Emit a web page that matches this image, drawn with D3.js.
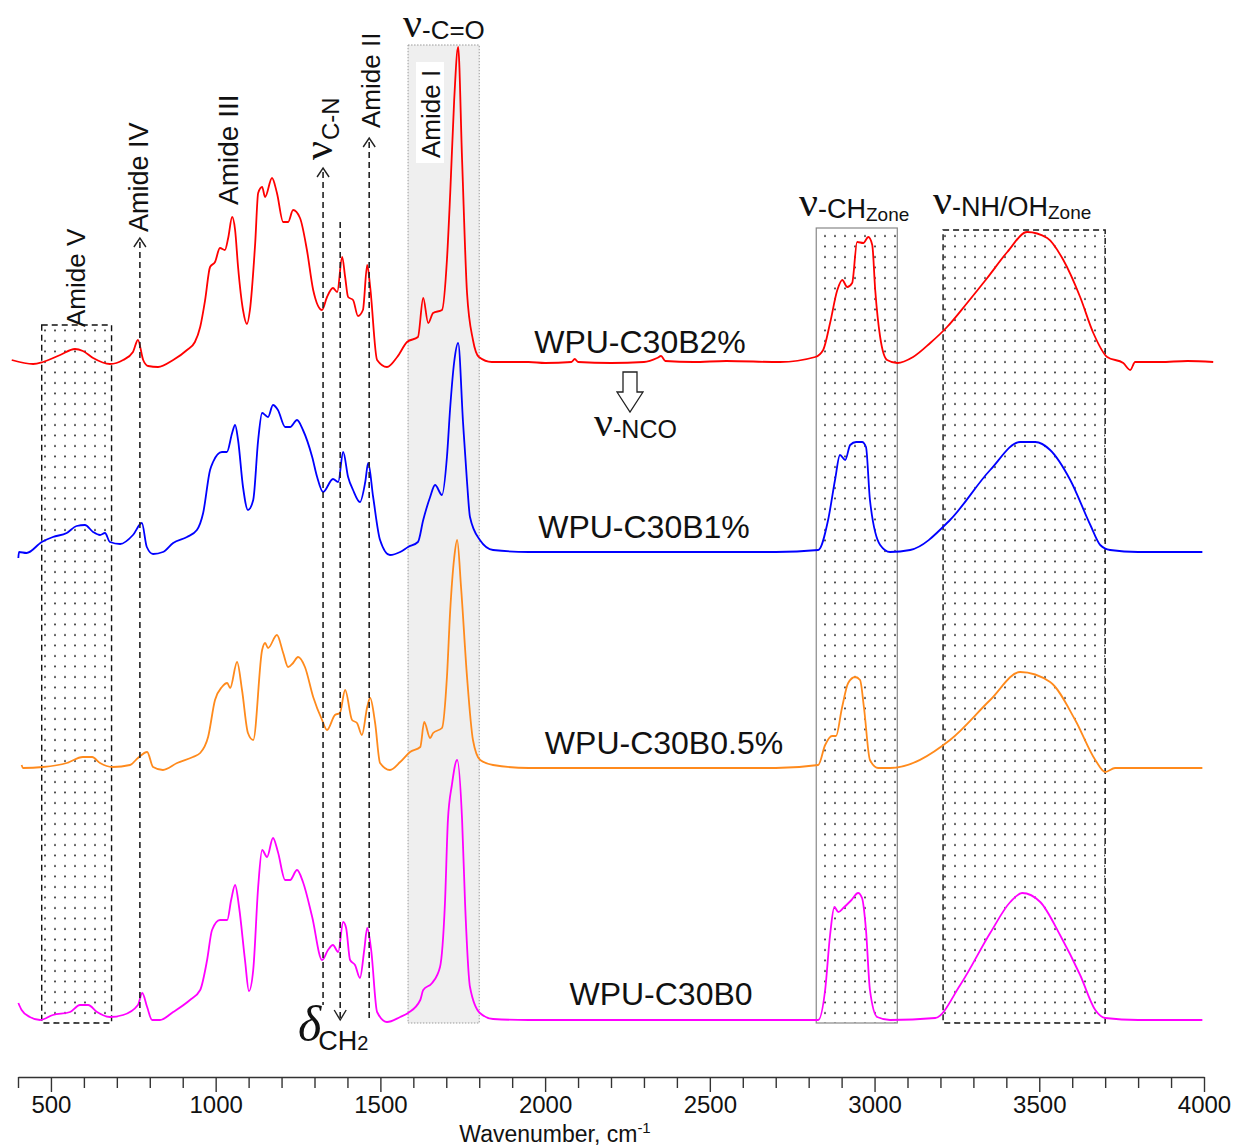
<!DOCTYPE html>
<head>
  <meta charset="utf-8">
  <title>FTIR spectra WPU-C30B</title>
  <style>
    body { margin: 0; background: #fff; }
    text { font-family: "Liberation Sans", Arial, sans-serif; fill: #111; }
    .greek { font-family: "Liberation Serif", "DejaVu Serif", serif; }
  </style>
</head>
<body>
<div id="chart"></div>
<script src="https://cdnjs.cloudflare.com/ajax/libs/d3/7.8.5/d3.min.js"></script>
<script>
// spectra, [wavenumber cm-1, absorbance (a.u., relative to own baseline)]
var specB2 = [[381,0],[446,-4],[476,-2],[528,5],[573,11],[597,9],[628,2],[679,-4],[719,0],[749,8],[764,20],[780,0],[795,-6],[825,-7],[871,0],[913,10],[937,18],[953,33],[968,60],[983,93],[998,98],[1013,112],[1028,110],[1038,122],[1050,143],[1059,130],[1068,93],[1083,50],[1095,36],[1104,50],[1120,117],[1129,167],[1141,173],[1150,163],[1171,182],[1186,167],[1205,138],[1220,138],[1235,150],[1256,142],[1277,110],[1296,70],[1323,50],[1338,63],[1356,72],[1369,68],[1384,103],[1393,83],[1402,63],[1417,60],[1432,44],[1447,50],[1460,95],[1469,73],[1490,0],[1520,-7],[1551,3],[1581,18],[1614,23],[1630,62],[1645,37],[1660,47],[1687,50],[1702,100],[1712,167],[1724,260],[1736,313],[1748,200],[1763,67],[1781,20],[1799,3],[1838,-2],[1950,-2],[2000,-3],[2080,-2],[2090,1],[2100,-2],[2200,-3],[2300,-2],[2340,2],[2352,4],[2365,-1],[2450,-2],[2550,-1],[2713,-2],[2820,3],[2844,10],[2865,37],[2887,70],[2902,80],[2917,73],[2932,77],[2947,118],[2966,117],[2981,123],[2993,115],[3002,70],[3017,23],[3038,0],[3069,-3],[3117,3],[3169,17],[3220,33],[3281,57],[3342,82],[3403,108],[3463,128],[3524,122],[3573,100],[3624,63],[3664,27],[3706,3],[3755,-3],[3776,-10],[3791,-2],[3867,-2],[3950,-1],[4028,-2]];

var specB1 = [[401,-6],[403,0],[426,-1],[472,10],[506,15],[548,19],[578,26],[603,27],[628,20],[649,17],[664,19],[679,10],[710,8],[749,17],[776,29],[791,5],[810,-2],[840,0],[871,9],[913,15],[943,22],[962,39],[983,82],[992,90],[1019,100],[1034,100],[1050,119],[1059,127],[1068,112],[1083,65],[1098,42],[1114,52],[1129,112],[1141,139],[1150,137],[1159,135],[1174,147],[1189,142],[1211,125],[1226,125],[1247,132],[1265,122],[1293,95],[1308,75],[1326,60],[1356,73],[1372,70],[1387,100],[1402,75],[1417,62],[1438,50],[1454,70],[1463,89],[1478,55],[1499,12],[1529,-3],[1560,0],[1584,5],[1614,10],[1630,32],[1651,55],[1666,67],[1687,57],[1702,95],[1712,145],[1724,190],[1736,209],[1751,129],[1763,70],[1772,35],[1802,12],[1842,2],[1950,0],[2200,0],[2500,0],[2700,0],[2829,2],[2859,32],[2880,72],[2895,97],[2911,92],[2926,107],[2944,110],[2962,110],[2974,105],[2986,52],[3017,7],[3047,0],[3108,2],[3229,32],[3351,82],[3442,110],[3488,110],[3533,102],[3594,72],[3655,27],[3685,7],[3715,2],[3800,0],[3995,0]];

var specB05 = [[411,3],[415,0],[476,1],[548,5],[597,11],[625,11],[649,5],[688,1],[740,3],[764,10],[792,16],[810,1],[840,-2],[883,5],[931,11],[953,15],[977,31],[998,68],[1019,81],[1035,85],[1044,80],[1065,106],[1080,78],[1098,35],[1114,28],[1141,118],[1150,125],[1159,120],[1186,133],[1205,115],[1220,101],[1235,105],[1250,111],[1271,101],[1296,71],[1323,48],[1338,38],[1362,53],[1377,55],[1393,78],[1414,48],[1429,45],[1444,33],[1460,61],[1469,70],[1484,45],[1499,5],[1529,-2],[1560,6],[1590,16],[1621,21],[1633,46],[1651,30],[1660,35],[1687,40],[1702,91],[1712,158],[1724,210],[1733,228],[1745,180],[1763,91],[1781,28],[1803,8],[1842,3],[1950,0],[2200,0],[2500,0],[2700,0],[2829,3],[2850,23],[2871,32],[2883,32],[2901,60],[2920,85],[2941,91],[2956,88],[2968,60],[2986,8],[3011,0],[3047,0],[3229,28],[3351,68],[3442,96],[3533,86],[3609,48],[3670,8],[3700,-4],[3730,0],[3800,0],[3995,0]];

var specB0 = [[401,17],[411,10],[436,3],[467,0],[506,5],[558,8],[588,15],[613,15],[640,8],[679,3],[719,5],[764,15],[777,27],[792,13],[807,0],[831,0],[871,8],[922,20],[953,30],[974,60],[989,90],[1013,100],[1035,100],[1047,120],[1059,135],[1071,113],[1089,60],[1101,29],[1114,50],[1129,133],[1141,170],[1156,163],[1174,182],[1189,168],[1211,140],[1226,140],[1247,150],[1265,138],[1293,103],[1323,60],[1341,70],[1356,75],[1372,68],[1387,98],[1396,92],[1408,60],[1423,55],[1438,42],[1451,70],[1460,92],[1472,70],[1490,8],[1520,-2],[1560,3],[1584,7],[1621,20],[1630,30],[1657,37],[1681,53],[1696,117],[1705,200],[1717,235],[1733,260],[1748,200],[1757,117],[1772,33],[1802,7],[1842,1],[1950,0],[2200,0],[2500,0],[2700,0],[2829,0],[2850,30],[2865,85],[2878,113],[2890,108],[2905,112],[2930,120],[2950,127],[2962,122],[2974,90],[2986,30],[3008,3],[3047,0],[3184,2],[3260,35],[3351,87],[3412,118],[3448,127],[3503,118],[3563,85],[3624,45],[3670,10],[3700,2],[3800,0],[3995,0]];

var seriesNames = ["WPU-C30B2%", "WPU-C30B1%", "WPU-C30B0.5%", "WPU-C30B0"];
var seriesData = [specB2, specB1, specB05, specB0];
var seriesOffsets = [660, 468, 252, 0];
var seriesColors = ["#ff0000", "#0000ff", "#ff8a1c", "#ff00ff"];

// annotated wavenumber regions
var dotZones = [[472, 684], [2823, 3069], [3208, 3700]];
var amideIBand = [1584, 1800];
var arrowLines = [770, 1326, 1378, 1466];

var xTicks = d3.range(400, 4001, 100);

var width = 1245, height = 1148;

var svg = d3.select("#chart").append("svg")
  .attr("width", width)
  .attr("height", height);

var x = d3.scaleLinear().domain([400, 4000]).range([18, 1204]);
var y = d3.scaleLinear().domain([0, 1000]).range([1020, 20]);

var defs = svg.append("defs");
var pat = defs.append("pattern")
  .attr("id", "dots")
  .attr("patternUnits", "userSpaceOnUse")
  .attr("width", 10)
  .attr("height", 10.5);
pat.append("circle").attr("cx", 5).attr("cy", 5).attr("r", 1).attr("fill", "#222");

var bottomY = 1023;

// Amide I shaded band
svg.append("rect")
  .attr("x", x(amideIBand[0]))
  .attr("y", 45)
  .attr("width", x(amideIBand[1]) - x(amideIBand[0]))
  .attr("height", bottomY - 45)
  .attr("fill", "#efefef")
  .attr("stroke", "#999")
  .attr("stroke-width", 1)
  .attr("stroke-dasharray", "1.5,1.5");

// dotted zones
var zoneTops = [325, 228, 230];
var zoneStroke = [["#111", "6,4", 1.4], ["#888", null, 1.2], ["#111", "6,4", 1.4]];
svg.selectAll("rect.zone")
  .data(dotZones)
  .enter().append("rect")
  .attr("class", "zone")
  .attr("x", d => x(d[0]))
  .attr("y", (d, i) => zoneTops[i])
  .attr("width", d => x(d[1]) - x(d[0]))
  .attr("height", (d, i) => bottomY - zoneTops[i])
  .attr("fill", "url(#dots)")
  .attr("stroke", (d, i) => zoneStroke[i][0])
  .attr("stroke-dasharray", (d, i) => zoneStroke[i][1])
  .attr("stroke-width", (d, i) => zoneStroke[i][2]);

// spectra
var line = d3.line()
  .x(d => x(d[0]))
  .curve(d3.curveMonotoneX);

svg.append("g")
  .selectAll("path")
  .data(seriesData)
  .enter().append("path")
  .attr("fill", "none")
  .attr("stroke", (d, i) => seriesColors[i])
  .attr("stroke-width", 1.8)
  .attr("d", (d, i) => line.y(p => y(p[1] + seriesOffsets[i]))(d));

// dashed marker lines
var arrowTop = [242, 172, 222, 142];
var arrowBottom = [1017, 1005, 1020, 1020];
var arrowUp = [true, true, false, true];
svg.append("g")
  .selectAll("line")
  .data(arrowLines)
  .enter().append("line")
  .attr("x1", d => x(d)).attr("x2", d => x(d))
  .attr("y1", (d, i) => arrowTop[i])
  .attr("y2", (d, i) => arrowBottom[i])
  .attr("stroke", "#222")
  .attr("stroke-width", 1.6)
  .attr("stroke-dasharray", "6,4");

// open chevron arrowheads
svg.append("g")
  .selectAll("path")
  .data(arrowLines)
  .enter().append("path")
  .attr("fill", "none")
  .attr("stroke", "#222")
  .attr("stroke-width", 1.4)
  .attr("d", function(d, i) {
    var cx = x(d);
    if (arrowUp[i]) {
      var t = arrowTop[i] - 4;
      return "M" + (cx - 6) + "," + (t + 9) + "L" + cx + "," + t + "L" + (cx + 6) + "," + (t + 9);
    }
    var b = arrowBottom[i];
    return "M" + (cx - 6) + "," + (b - 10) + "L" + cx + "," + b + "L" + (cx + 6) + "," + (b - 10);
  });

// rotated labels
function vlabel(tx, ty, txt, size) {
  return svg.append("text")
    .attr("transform", "translate(" + tx + "," + ty + ") rotate(-90)")
    .attr("font-size", size)
    .text(txt);
}
vlabel(85, 327, "Amide V", 26);
vlabel(148, 232, "Amide IV", 27);
vlabel(238, 205, "Amide III", 28);
vlabel(380, 128, "Amide II", 26);

svg.append("rect")
  .attr("x", 416).attr("y", 62)
  .attr("width", 28).attr("height", 101)
  .attr("fill", "#fff");
vlabel(440, 158, "Amide I", 26);

var vCN = svg.append("text")
  .attr("transform", "translate(332,160) rotate(-90)");
vCN.append("tspan").attr("class", "greek").attr("font-size", 42).text("\u03bd");
vCN.append("tspan").attr("font-size", 24).attr("dy", 7).attr("dx", 1).text("C-N");

// nu / delta labels
function nuLabel(tx, ty, sub, subSize, zone) {
  var t = svg.append("text").attr("x", tx).attr("y", ty);
  t.append("tspan").attr("class", "greek").attr("font-size", 42).text("\u03bd");
  t.append("tspan").attr("font-size", subSize).attr("dy", 2).text(sub);
  if (zone) t.append("tspan").attr("font-size", 19).attr("dy", 3).text("Zone");
  return t;
}
nuLabel(403, 37, "-C=O", 26, false);
nuLabel(799, 216, "-CH", 27, true);
nuLabel(933, 214, "-NH/OH", 27, true);
nuLabel(594, 436, "-NCO", 25, false);

var dl = svg.append("text").attr("x", 298).attr("y", 1041);
dl.append("tspan").attr("class", "greek").attr("font-style", "italic").attr("font-size", 50).text("\u03b4");
dl.append("tspan").attr("font-size", 27).attr("dy", 9).attr("dx", -3).text("CH");
dl.append("tspan").attr("font-size", 20).text("2");

// hollow arrow to NCO
svg.append("path")
  .attr("d", "M623,372 L637,372 L637,392 L643,392 L630,412 L617,392 L623,392 Z")
  .attr("fill", "#fff")
  .attr("stroke", "#222")
  .attr("stroke-width", 1.3);

// series names
var nameX = [640, 644, 664, 661];
var nameY = [353, 538, 754, 1005];
svg.selectAll("text.sname")
  .data(seriesNames)
  .enter().append("text")
  .attr("class", "sname")
  .attr("x", (d, i) => nameX[i])
  .attr("y", (d, i) => nameY[i])
  .attr("text-anchor", "middle")
  .attr("font-size", 32)
  .text(d => d);

// x axis
var xAxis = d3.axisBottom(x)
  .tickValues(xTicks)
  .tickSize(15)
  .tickSizeOuter(0)
  .tickPadding(4)
  .tickFormat(d => d % 500 === 0 ? d : "");

var gx = svg.append("g")
  .attr("transform", "translate(0,1077)")
  .call(xAxis);
gx.select(".domain").attr("stroke", "#333").attr("stroke-width", 1.5);
gx.selectAll(".tick line")
  .attr("stroke", "#333")
  .attr("stroke-width", 1.4)
  .attr("y2", d => d % 500 === 0 ? 15 : 11);
gx.selectAll(".tick text")
  .attr("font-family", "'Liberation Sans', Arial, sans-serif")
  .attr("font-size", 24)
  .attr("fill", "#222");

var xl = svg.append("text")
  .attr("x", 555).attr("y", 1142)
  .attr("text-anchor", "middle")
  .attr("font-size", 23);
xl.append("tspan").text("Wavenumber, cm");
xl.append("tspan").attr("font-size", 15).attr("dy", -9).text("-1");
</script>
</body>
